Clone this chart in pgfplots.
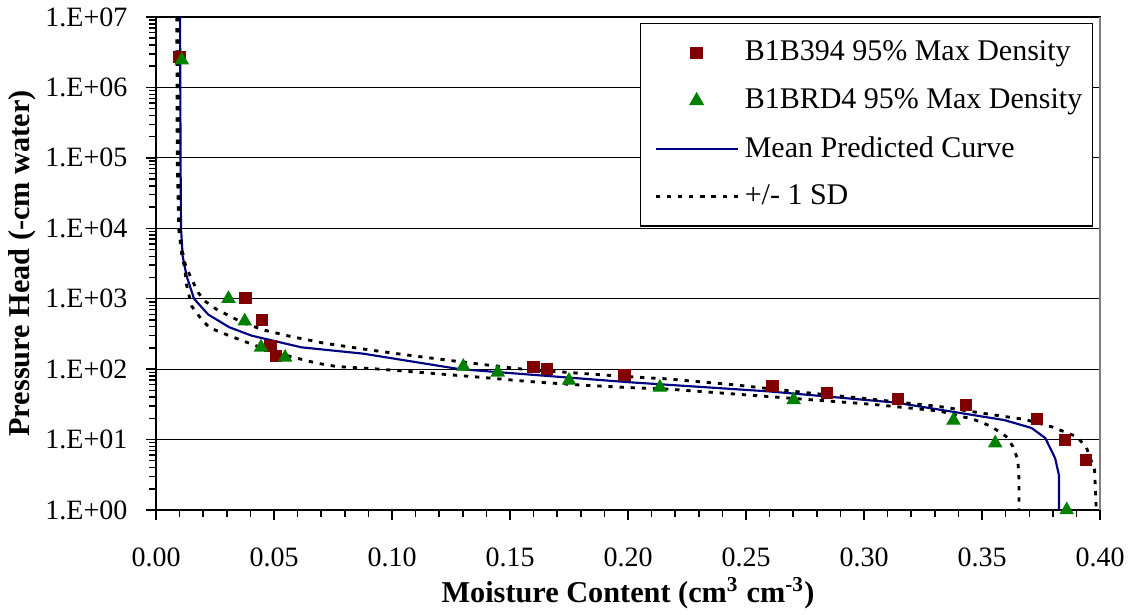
\documentclass[border=0pt]{standalone}
\usepackage{fontspec}
\setmainfont{Liberation Serif}
\usepackage{pgfplots}
\pgfplotsset{compat=1.18}
\definecolor{sqred}{RGB}{128,0,0}
\definecolor{trigreen}{RGB}{0,128,0}
\definecolor{meanblue}{RGB}{0,0,128}
\pgfplotsset{
  markleg/.style={legend image code/.code={\path[draw=none,fill=none] (0pt,0pt) (32.5pt,0pt);
    \draw[##1] plot coordinates {(18.15pt,0pt)};}},
  lineleg/.style={legend image code/.code={\path[draw=none,fill=none] (0pt,0pt);
    \draw[##1] (3.8pt,0pt) -- (32.5pt,0pt);}},
}

\begin{document}
\begin{tikzpicture}
\begin{axis}[
  name=ax,
  set layers,
  scale only axis, width=330.4pt, height=172.55pt,
  xmin=0, xmax=0.40, ymin=1, ymax=1e7,
  ymode=log,
  clip=false,
  font=\fontsize{9.8}{11}\selectfont,
  xtick={0,0.05,0.10,0.15,0.20,0.25,0.30,0.35,0.40},
  xticklabels={0.00,0.05,0.10,0.15,0.20,0.25,0.30,0.35,0.40},
  minor x tick num=4,
  ytick={1,10,100,1000,1e4,1e5,1e6,1e7},
  yticklabels={1.E+00,1.E+01,1.E+02,1.E+03,1.E+04,1.E+05,1.E+06,1.E+07},
  minor ytick={2,3,4,5,6,7,8,9,20,30,40,50,60,70,80,90,200,300,400,500,600,700,800,900,
    2e3,3e3,4e3,5e3,6e3,7e3,8e3,9e3,2e4,3e4,4e4,5e4,6e4,7e4,8e4,9e4,
    2e5,3e5,4e5,5e5,6e5,7e5,8e5,9e5,2e6,3e6,4e6,5e6,6e6,7e6,8e6,9e6},
  xtick pos=left, ytick pos=left,
  tick align=outside,
  major tick length=3.5pt, minor tick length=2.4pt,
  every tick/.style={black, line width=0.5pt},
  ymajorgrids, grid style={black, line width=0.4pt},
  axis line style={line width=0.7pt},
  xticklabel style={anchor=base, yshift=-16.4pt},
  yticklabel style={xshift=-3pt},
  xlabel={\bfseries Moisture Content (cm\textsuperscript{3} cm\textsuperscript{-3})},
  xlabel style={at={(axis description cs:0.5,-0.1886)}, anchor=base, font=\fontsize{10.6}{12}\selectfont},
  ylabel={\bfseries Pressure Head (-cm water)},
  ylabel style={at={(axis description cs:-0.142,0.5)}, anchor=center, font=\fontsize{10.6}{12}\selectfont},
  legend cell align=left,
  legend style={at={(axis description cs:0.9926,0.9878)}, anchor=north east,
    draw=black, line width=0.5pt, font=\fontsize{10.5}{12}\selectfont,
    row sep=4.2pt, inner xsep=1.5pt, inner ysep=4pt},
]
\addplot[only marks, mark=square*, mark size=1.95pt, sqred, on layer=axis foreground, markleg]
coordinates {(0.0099,2.7e6) (0.0379,1030) (0.045,496) (0.0485,215) (0.0507,152)
  (0.160,107) (0.1658,101) (0.1985,83) (0.2612,57) (0.2843,46) (0.3143,38)
  (0.3432,31) (0.3733,19.7) (0.3853,9.9) (0.3941,5.07)};
\addlegendentry{B1B394 95\% Max Density}
\addplot[only marks, mark=triangle*, mark size=2.55pt, trigreen, on layer=axis foreground, markleg]
coordinates {(0.0109,2.44e6) (0.0307,1000) (0.0376,480) (0.0445,204) (0.0547,147)
  (0.1302,109) (0.1448,90) (0.175,69) (0.2135,55) (0.2702,36.6) (0.3379,18.7)
  (0.3556,8.9) (0.3859,1.0)};
\addlegendentry{B1BRD4 95\% Max Density}
\addplot[meanblue, line width=0.75pt, no marks, lineleg]
coordinates {(0.0102,1e7) (0.0103,1e6) (0.0104,1e5) (0.0106,1e4) (0.0113,4000)
  (0.0130,2090) (0.0161,1000) (0.0221,597) (0.0310,394) (0.0405,299) (0.0616,204)
  (0.0877,166) (0.1286,100) (0.165,80.4) (0.2004,65.2) (0.260,48.2) (0.3134,33.5)
  (0.3595,18.9) (0.371,14.6) (0.3768,10.5) (0.381,5.42) (0.3826,3.12) (0.3826,1)};
\addlegendentry{Mean Predicted Curve}
\addplot[black, line width=1pt, dash pattern=on 1.5pt off 2.4pt, no marks, lineleg]
coordinates {(0.0095,1e7) (0.0096,1e5) (0.0100,1e4) (0.0110,5000) (0.0125,3000)
  (0.0151,1888) (0.0179,1219) (0.0207,927) (0.0257,705) (0.0313,565) (0.0369,454)
  (0.0461,356) (0.0567,293) (0.0708,235) (0.0877,193) (0.1074,157) (0.130,126)
  (0.154,101) (0.1807,86.7) (0.199,78.5) (0.2169,72.6) (0.2457,59.6) (0.2745,46.7)
  (0.3033,37.4) (0.3321,29.4) (0.3537,22.7) (0.3682,19.3) (0.3797,15.1) (0.3898,11.1)
  (0.3941,7.98) (0.3977,3.68) (0.3984,1)};
\addlegendentry{+/- 1 SD}
\addplot[black, line width=1pt, dash pattern=on 1.5pt off 2.4pt, no marks, forget plot]
coordinates {(0.0088,1e7) (0.0090,1e5) (0.0096,1e4) (0.0110,4000) (0.0123,2630)
  (0.0127,1698) (0.0151,785) (0.0193,507) (0.0228,385) (0.0299,309) (0.0355,262)
  (0.0468,189) (0.0567,152) (0.0679,122) (0.0764,109) (0.0947,100) (0.1159,87.7)
  (0.137,76.9) (0.158,66.7) (0.179,59.7) (0.2004,54.7) (0.2169,52.1) (0.2457,44.2)
  (0.2745,37.4) (0.3033,31.7) (0.3321,25.4) (0.3465,19.3) (0.3537,15.5) (0.3602,11.1)
  (0.3631,7.98) (0.3652,5.13) (0.3657,2.64) (0.3657,1)};
\end{axis}
\draw[gray, line width=0.7pt] (ax.north east) -- (ax.south east);
\pgfresetboundingbox
\path[use as bounding box] ([xshift=-54.6pt,yshift=-36.75pt]ax.south west)
  rectangle ([xshift=12.25pt,yshift=5.95pt]ax.north east);
\end{tikzpicture}
\end{document}
